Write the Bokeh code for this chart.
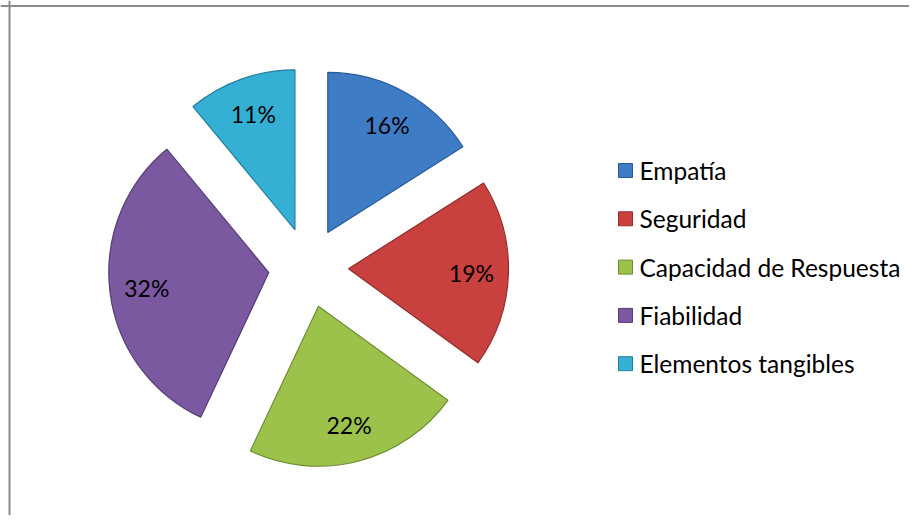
import math
from bokeh.plotting import figure
from bokeh.models import Range1d, ColumnDataSource, Span
from bokeh.core.properties import value
from bokeh.embed import file_html
from bokeh.resources import INLINE

# ---- data ----
categories = ["Empatía", "Seguridad", "Capacidad de Respuesta", "Fiabilidad", "Elementos tangibles"]
percents = [16, 19, 22, 32, 11]
labels = ["16%", "19%", "22%", "32%", "11%"]
colors = ["#3f7cc6", "#c9413e", "#9cc24c", "#7a59a1", "#35b0d4"]
edge_colors = ["#2c5a93", "#902d2b", "#6f8c33", "#553d74", "#23809c"]

# ---- layout (pixels) ----
W, H = 909, 515
CX, CY = 308, H - 267      # pie centre (data coords, y up)
R = 160                    # radius
EXPLODE = 40               # explosion distance
LABEL_R = 123              # label distance from slice apex
FONT = "Lato"

p = figure(width=W, height=H, output_backend="svg", toolbar_location=None,
           x_range=Range1d(0, W), y_range=Range1d(0, H),
           min_border=0, outline_line_color=None)
p.axis.visible = False
p.grid.visible = False
p.background_fill_color = "white"

total = float(sum(percents))
xs, ys, starts, ends, lx, ly = [], [], [], [], [], []
cum = 0.0
for v in percents:
    c0 = cum / total
    cum += v
    c1 = cum / total
    mid = math.pi / 2 - 2 * math.pi * (c0 + c1) / 2
    ax = CX + EXPLODE * math.cos(mid)
    ay = CY + EXPLODE * math.sin(mid)
    xs.append(ax); ys.append(ay)
    starts.append(math.pi / 2 - 2 * math.pi * c0)
    ends.append(math.pi / 2 - 2 * math.pi * c1)
    lx.append(ax + LABEL_R * math.cos(mid))
    ly.append(ay + LABEL_R * math.sin(mid))

src = ColumnDataSource(dict(x=xs, y=ys, start=starts, end=ends, color=colors,
                            edge=edge_colors, lx=lx, ly=ly, label=labels, cat=categories))

p.wedge(x="x", y="y", radius=R, start_angle="start", end_angle="end", direction="clock",
        fill_color="color", line_color="edge", line_width=1.2, source=src)
p.text(x="lx", y="ly", text="label", text_align="center", text_baseline="middle",
       text_font=value(FONT), text_font_size="23px", text_color="#000000", source=src)

# ---- legend (drawn manually) ----
LEG_X, LEG_Y0, LEG_STEP = 625, H - 170, 48.3
n = len(categories)
leg = ColumnDataSource(dict(
    x=[LEG_X] * n,
    y=[LEG_Y0 - i * LEG_STEP for i in range(n)],
    tx=[LEG_X + 14] * n,
    color=colors, edge=edge_colors, cat=categories))
p.rect(x="x", y="y", width=14, height=14, fill_color="color", line_color="edge",
       line_width=1, source=leg)
p.text(x="tx", y="y", text="cat", text_align="left", text_baseline="middle",
       text_font=value(FONT), text_font_size="24.5px", text_color="#000000", source=leg)

# ---- chart area border (left & top only visible) ----
p.add_layout(Span(location=9, dimension="height", line_color="#8c8c8c", line_width=2))
p.add_layout(Span(location=H - 5.5, dimension="width", line_color="#8c8c8c", line_width=2))

open("out.html", "w").write(file_html(p, INLINE))
